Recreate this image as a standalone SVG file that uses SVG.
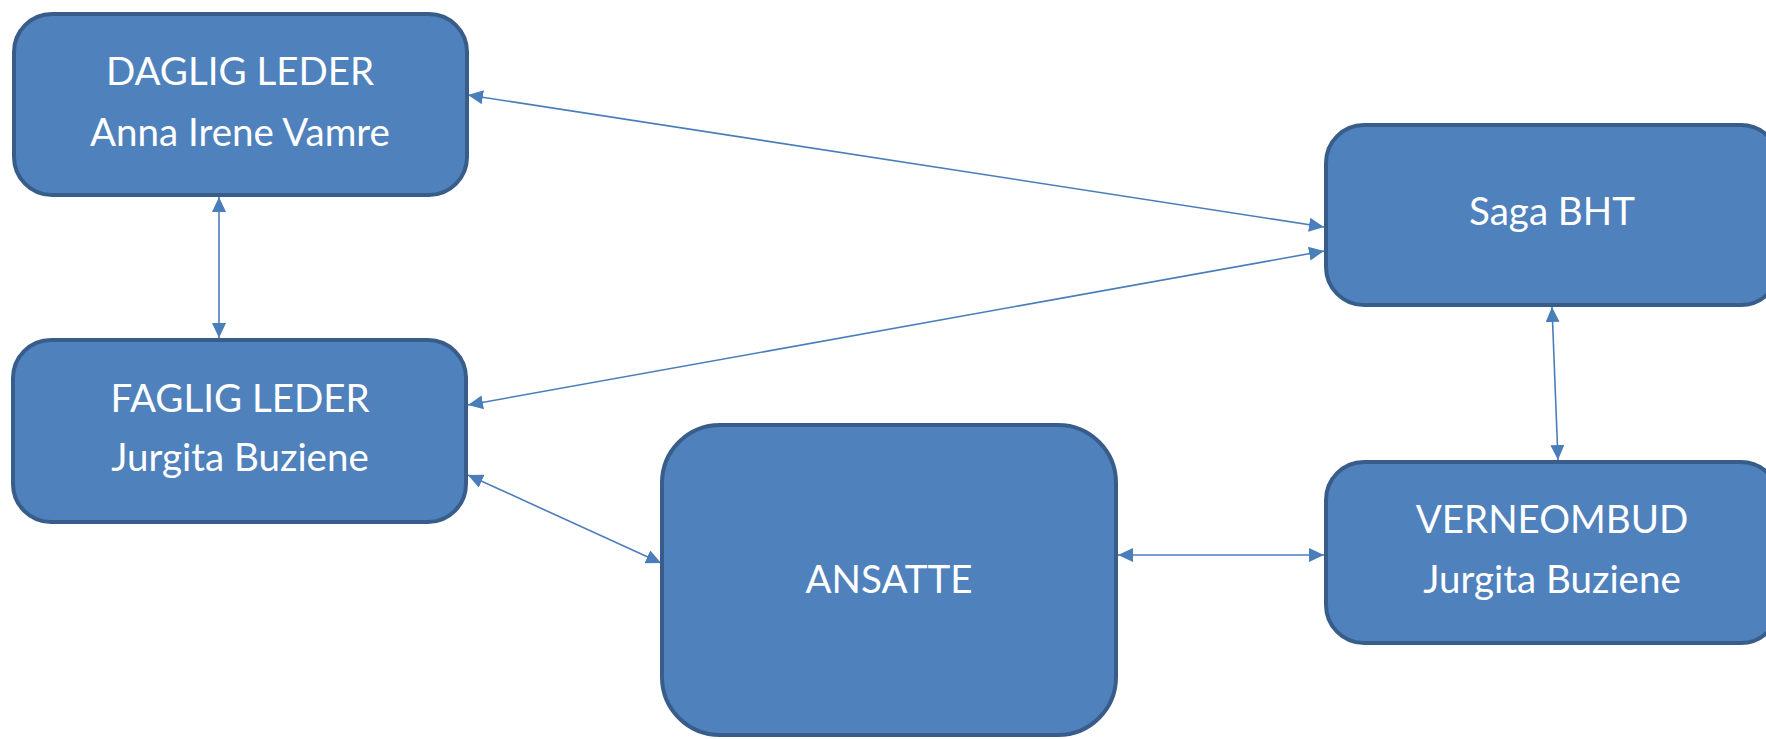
<svg xmlns="http://www.w3.org/2000/svg" width="1766" height="739" viewBox="0 0 1766 739">
<defs>
<style>
.box{fill:#4F81BD;stroke:#385D8A;stroke-width:4}
.lbl{fill:#FFFFFF;font-family:Lato,"Open Sans","Liberation Sans",sans-serif;font-size:38.5px;text-anchor:middle}
.con{stroke:#4A7EBB;stroke-width:1.6;fill:none;marker-start:url(#ah);marker-end:url(#ah)}
</style>
<marker id="ah" markerUnits="userSpaceOnUse" markerWidth="16" markerHeight="14" refX="15" refY="7" orient="auto-start-reverse" viewBox="0 0 16 14">
<path d="M0,0 L15,7 L0,14 z" fill="#4A7EBB"/>
</marker>
</defs>
<rect width="1766" height="739" fill="#FFFFFF"/>
<g id="connectors">
<line class="con" x1="219" y1="197" x2="219" y2="338"/>
<line class="con" x1="468" y1="95" x2="1324" y2="227"/>
<line class="con" x1="468" y1="405" x2="1324" y2="251"/>
<line class="con" x1="468" y1="475" x2="661" y2="563"/>
<line class="con" x1="1118" y1="555" x2="1324" y2="555"/>
<line class="con" x1="1552" y1="307" x2="1558" y2="460"/>
</g>
<g id="daglig-leder">
<rect class="box" x="14" y="14" width="453" height="181" rx="38" ry="38"/>
<text class="lbl" x="240" y="85">DAGLIG LEDER</text>
<text class="lbl" x="240" y="146">Anna Irene Vamre</text>
</g>
<g id="faglig-leder">
<rect class="box" x="13" y="340" width="453" height="182" rx="38" ry="38"/>
<text class="lbl" x="240" y="412">FAGLIG LEDER</text>
<text class="lbl" x="240" y="471">Jurgita Buziene</text>
</g>
<g id="saga-bht">
<rect class="box" x="1326" y="125" width="453" height="180" rx="38" ry="38"/>
<text class="lbl" x="1552" y="225">Saga BHT</text>
</g>
<g id="verneombud">
<rect class="box" x="1326" y="462" width="453" height="181" rx="38" ry="38"/>
<text class="lbl" x="1552" y="533">VERNEOMBUD</text>
<text class="lbl" x="1552" y="593">Jurgita Buziene</text>
</g>
<g id="ansatte">
<rect class="box" x="662" y="425" width="454" height="310" rx="58" ry="58"/>
<text class="lbl" x="889" y="593">ANSATTE</text>
</g>
</svg>
